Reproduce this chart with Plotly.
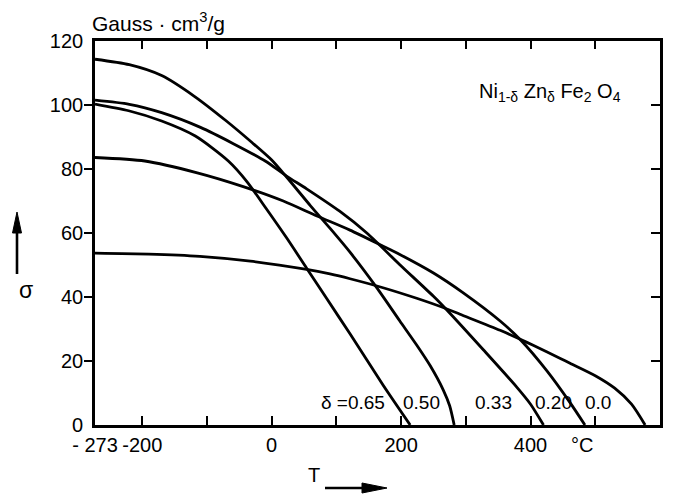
import plotly.graph_objects as go

# ---- data (T in °C, sigma in Gauss·cm^3/g) ----
T_065 = [-273, -221, -170, -118, -67, -38, -8, 23, 54, 85, 121, 172, 214]
S_065 = [100.3, 98.2, 95.0, 90.3, 82.5, 76.0, 67.5, 58.5, 49.0, 39.5, 28.5, 12.5, 0.0]

T_050 = [-273, -220, -170, -120, -70, -30, 0, 23, 60, 90, 121, 162, 198, 224, 245, 265, 275, 282]
S_050 = [114.3, 112.6, 109.2, 102.8, 95.0, 88.2, 82.8, 77.5, 68.5, 61.5, 54.0, 43.0, 32.5, 25.0, 18.5, 11.0, 6.0, 0.0]

T_033 = [-273, -220, -170, -110, -60, -10, 23, 54, 105, 147, 198, 250, 275, 327, 378, 400, 420]
S_033 = [101.5, 100.2, 97.6, 93.0, 88.0, 82.5, 77.8, 73.8, 66.8, 60.0, 50.1, 40.2, 35.0, 23.5, 12.0, 6.5, 0.0]

T_020 = [-273, -196, -115, -44, 18, 70, 121, 170, 198, 250, 296, 353, 385, 425, 461, 484]
S_020 = [83.6, 82.5, 78.8, 74.5, 70.0, 65.3, 60.9, 56.1, 53.3, 47.5, 41.3, 32.5, 26.5, 17.0, 7.0, 0.0]

T_000 = [-273, -190, -111, -33, 54, 90, 121, 172, 224, 265, 291, 353, 384, 404, 446, 461, 500, 530, 556, 577]
S_000 = [53.7, 53.4, 52.7, 51.2, 48.6, 47.2, 45.7, 42.9, 39.6, 36.7, 34.6, 29.6, 26.8, 24.9, 20.8, 19.3, 15.4, 11.5, 6.5, 0.0]

curves = [(T_065, S_065), (T_050, S_050), (T_033, S_033), (T_020, S_020), (T_000, S_000)]

curve_labels = ["δ =0.65", "0.50", "0.33", "0.20", "0.0"]
curve_label_T = [125, 232, 342, 435, 504]
curve_label_S = 6.9

x_tickvals = [-273, -200, 0, 200, 400, 480, 600]
x_ticktext = ["- 273", "-200", "0", "200", "400", "°C", "600"]
x_minor = [-200, -100, 0, 100, 200, 300, 400, 500]
y_tickvals = [0, 20, 40, 60, 80, 100, 120]
y_minor = [20, 40, 60, 80, 100]

FONT = "Liberation Sans, Arial, sans-serif"

fig = go.Figure()
for T, S in curves:
    fig.add_trace(go.Scatter(x=T, y=S, mode="lines",
                             line=dict(color="black", width=2.8, shape="spline", smoothing=0.7),
                             hoverinfo="skip", showlegend=False))
# invisible trace on the mirror axes
fig.add_trace(go.Scatter(x=[-273], y=[0], xaxis="x2", yaxis="y2", mode="markers",
                         marker=dict(opacity=0), showlegend=False, hoverinfo="skip"))

for lab, t in zip(curve_labels, curve_label_T):
    fig.add_annotation(x=t, y=curve_label_S, xref="x", yref="y", text=lab, showarrow=False,
                       font=dict(size=19, color="black", family=FONT))

L, R, TOP, BOT = 95, 16, 41, 74
W, H = 676, 499
pw, ph = W - L - R, H - TOP - BOT

def px(x):
    return (x - L) / pw

def py(y):
    return (H - BOT - y) / ph

fig.add_annotation(x=px(90), y=py(22), xref="paper", yref="paper", xanchor="left", yanchor="middle",
                   text="Gauss · cm<sup>3</sup>/g", showarrow=False,
                   font=dict(size=21, color="black", family=FONT))
fig.add_annotation(x=px(477), y=py(93), xref="paper", yref="paper", xanchor="left", yanchor="middle",
                   text="Ni<sub>1-δ</sub> Zn<sub>δ</sub> Fe<sub>2</sub> O<sub>4</sub>", showarrow=False,
                   font=dict(size=20, color="black", family=FONT))
fig.add_annotation(x=px(17), y=py(290), xref="paper", yref="paper", text="σ", showarrow=False,
                   font=dict(size=23, color="black", family=FONT))
fig.add_annotation(x=px(314), y=py(488), xref="paper", yref="paper", text="T", showarrow=False,
                   font=dict(size=20, color="black", family=FONT))

# arrows drawn as shapes
arrow_shapes = [
    dict(type="line", xref="paper", yref="paper", x0=px(17), x1=px(17), y0=py(274), y1=py(230),
         line=dict(color="black", width=2.6)),
    dict(type="path", xref="paper", yref="paper",
         path=f"M {px(12.5)},{py(233)} L {px(17)},{py(212)} L {px(21.5)},{py(233)} Z",
         fillcolor="black", line=dict(color="black", width=1)),
    dict(type="line", xref="paper", yref="paper", x0=px(325), x1=px(366), y0=py(488), y1=py(488),
         line=dict(color="black", width=2.4)),
    dict(type="path", xref="paper", yref="paper",
         path=f"M {px(362)},{py(483)} L {px(387)},{py(488)} L {px(362)},{py(493)} Z",
         fillcolor="black", line=dict(color="black", width=1)),
]

fig.update_layout(
    width=W, height=H,
    margin=dict(l=L, r=R, t=TOP, b=BOT),
    paper_bgcolor="white", plot_bgcolor="white",
    font=dict(family=FONT, size=20, color="black"),
    shapes=arrow_shapes,
    xaxis=dict(range=[-273, 600], showgrid=False, zeroline=False,
               showline=True, linecolor="black", linewidth=2.6,
               tickmode="array", tickvals=x_tickvals, ticktext=x_ticktext,
               ticks="", tickfont=dict(size=20),
               minor=dict(tickmode="array", tickvals=x_minor, ticks="inside",
                          ticklen=9, tickwidth=2, tickcolor="black", showgrid=False)),
    yaxis=dict(range=[0, 120], showgrid=False, zeroline=False,
               showline=True, linecolor="black", linewidth=2.6,
               tickmode="array", tickvals=y_tickvals,
               ticks="outside", ticklen=5, tickcolor="rgba(0,0,0,0)",
               tickfont=dict(size=20),
               minor=dict(tickmode="array", tickvals=y_minor, ticks="outside",
                          ticklen=8, tickwidth=2, tickcolor="black", showgrid=False)),
    xaxis2=dict(range=[-273, 600], overlaying="x", side="top", anchor="y2",
                showgrid=False, zeroline=False, showline=True, linecolor="black", linewidth=2.6,
                tickmode="array", tickvals=x_minor, ticks="inside", ticklen=8, tickwidth=2,
                tickcolor="black", showticklabels=False),
    yaxis2=dict(range=[0, 120], overlaying="y", side="right", anchor="x2",
                showgrid=False, zeroline=False, showline=True, linecolor="black", linewidth=2.6,
                tickmode="array", tickvals=y_minor, ticks="inside", ticklen=9, tickwidth=2,
                tickcolor="black", showticklabels=False),
)

fig.write_html("out.html")
